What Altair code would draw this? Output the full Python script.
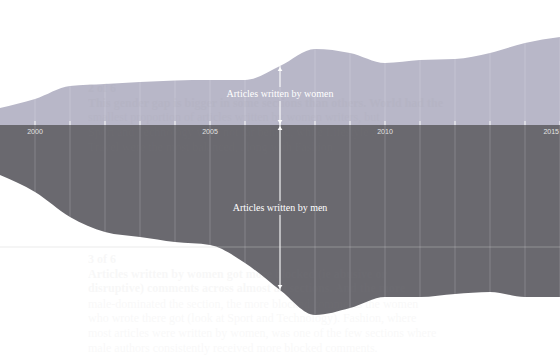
import altair as alt
import pandas as pd

# ---- data ----
years = list(range(1999, 2016))
women = [17, 26, 39, 41, 43, 44.5, 45, 45, 59, 76, 72, 62, 65, 66, 72, 82, 88]
men = [50, 67, 92, 107, 112, 117, 120, 138, 165, 190, 183, 172, 172, 169, 167, 172, 172]
tick_years = list(range(2000, 2016))
label_years = [2000, 2005, 2010]
last_label_year = [2015]
arrow_year = 2007

ghost_bold = [
    ("2 of 6", 37),
    ("This gender gap is bigger in some sections than others. World had the", 22),
    ("3 of 6", -134),
    ("Articles written by women got more blocked (ie abusive or", -149),
    ("disruptive) comments across almost all sections. And the more", -163),
]
ghost_regular = [
    ("smallest proportion of articles written by women writers, but", 8),
    ("Sport and Technology were not far behind, while Lifestyle and", -7),
    ("Travel were the most balanced, along with Fashion", -22),
    ("male-dominated the section, the more blocked comments the women", -179),
    ("who wrote there got (look at Sport and Technology). Fashion, where", -193),
    ("most articles were written by women, was one of the few sections where", -208),
    ("male authors consistently received more blocked comments.", -223),
]

df = pd.DataFrame({"year": years, "women": women, "men": [-m for m in men]})
i = years.index(arrow_year)
top_val = women[i]
bot_val = -men[i]
women_label_val = 31
men_label_val = -83
gap = 7

xs = alt.Scale(domain=[1999, 2015], nice=False, zero=False)
ys = alt.Scale(domain=[-230, 125], nice=False, zero=False)
X = alt.X("year:Q", scale=xs, axis=None)

women_area = alt.Chart(df).mark_area(interpolate="monotone", color="#b8b7c8").encode(
    x=X, y=alt.Y("women:Q", scale=ys, axis=None), y2=alt.datum(0)
)
men_area = alt.Chart(df).mark_area(interpolate="monotone", color="#6a696f").encode(
    x=X, y=alt.Y("men:Q", scale=ys, axis=None), y2=alt.datum(0)
)

tdf = pd.DataFrame({"year": tick_years})
grid = alt.Chart(tdf).mark_rule(color="white", opacity=0.18, strokeWidth=1).encode(x=X)
ticks = alt.Chart(tdf).mark_rule(color="white", opacity=0.9, strokeWidth=1).encode(
    x=X, y=alt.Y(datum=0, scale=ys), y2=alt.datum(4)
)
hline = alt.Chart(pd.DataFrame({"v": [-122]})).mark_rule(color="#cccccc", opacity=0.4).encode(
    y=alt.Y("v:Q", scale=ys)
)

lab = alt.Chart(pd.DataFrame({"year": label_years})).mark_text(
    color="#e4e4e4", fontSize=7, font="Liberation Sans", baseline="middle", align="center"
).encode(x=X, y=alt.Y(datum=-7, scale=ys), text=alt.Text("year:Q", format="d"))
lab_last = alt.Chart(pd.DataFrame({"year": last_label_year})).mark_text(
    color="#e4e4e4", fontSize=7, font="Liberation Sans", baseline="middle", align="right", dx=-1
).encode(x=X, y=alt.Y(datum=-7, scale=ys), text=alt.Text("year:Q", format="d"))

seg = pd.DataFrame({
    "year": [arrow_year] * 3,
    "a": [top_val, women_label_val - gap, men_label_val - gap],
    "b": [women_label_val + gap, men_label_val + gap, bot_val],
})
arrow_line = alt.Chart(seg).mark_rule(color="white", strokeWidth=1).encode(
    x=X, y=alt.Y("a:Q", scale=ys), y2="b:Q"
)
heads = pd.DataFrame({
    "year": [arrow_year] * 4,
    "v": [top_val, 0, 0, bot_val],
    "shape": ["triangle-up", "triangle-down", "triangle-up", "triangle-down"],
    "off": [3, -3, 3, -3],
})
arrow_heads = alt.layer(*[
    alt.Chart(heads.iloc[[k]]).mark_point(
        shape=heads["shape"][k], filled=True, color="white", opacity=1, size=22,
        yOffset=int(heads["off"][k])
    ).encode(x=X, y=alt.Y("v:Q", scale=ys))
    for k in range(len(heads))
])

labels = alt.Chart(pd.DataFrame({
    "year": [arrow_year, arrow_year],
    "v": [women_label_val, men_label_val],
    "t": ["Articles written by women", "Articles written by men"],
})).mark_text(color="white", font="Liberation Serif", fontSize=10, baseline="middle", align="center").encode(
    x=X, y=alt.Y("v:Q", scale=ys), text="t:N"
)

gx = 1999 + 88 / 35
gb = pd.DataFrame({"t": [g[0] for g in ghost_bold], "v": [g[1] for g in ghost_bold], "year": gx})
gr = pd.DataFrame({"t": [g[0] for g in ghost_regular], "v": [g[1] for g in ghost_regular], "year": gx})
ghost1 = alt.Chart(gb).mark_text(color="#888888", opacity=0.06, font="Liberation Serif", fontSize=12,
                                 fontWeight="bold", align="left", baseline="middle").encode(
    x=X, y=alt.Y("v:Q", scale=ys), text="t:N")
ghost2 = alt.Chart(gr).mark_text(color="#888888", opacity=0.05, font="Liberation Serif", fontSize=12,
                                 align="left", baseline="middle").encode(
    x=X, y=alt.Y("v:Q", scale=ys), text="t:N")

chart = alt.layer(
    women_area, men_area, grid, hline, ticks, lab, lab_last, ghost1, ghost2,
    arrow_line, arrow_heads, labels
).properties(width=560, height=355, autosize="none", padding=0, background="white").configure_view(stroke=None)

chart.save("out.html", embed_options={"renderer": "svg", "actions": False})
